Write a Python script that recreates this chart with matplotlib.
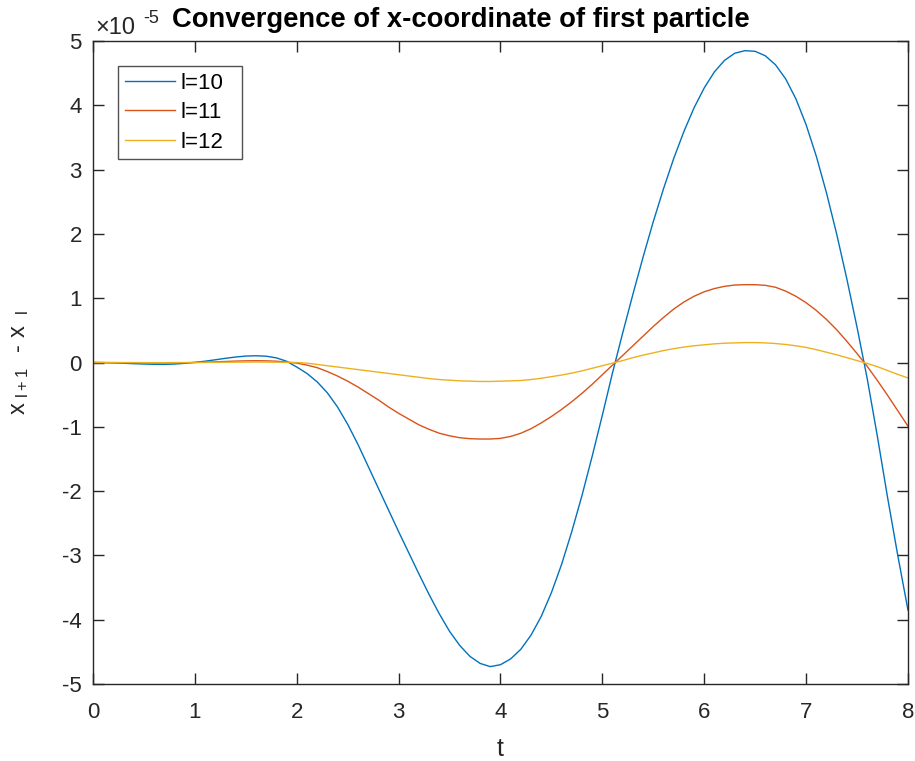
import matplotlib
matplotlib.use("Agg")
import matplotlib.pyplot as plt
from matplotlib.ticker import FuncFormatter

plt.rcParams['font.family'] = ['Liberation Sans', 'DejaVu Sans']
plt.rcParams['mathtext.fontset'] = 'custom'
plt.rcParams['mathtext.rm'] = 'Liberation Sans'

# time axis
t = [0.0, 0.1, 0.2, 0.3, 0.4, 0.5, 0.6, 0.7, 0.8, 0.9,
     1.0, 1.1, 1.2, 1.3, 1.4, 1.5, 1.6, 1.7, 1.8, 1.9,
     2.0, 2.1, 2.2, 2.3, 2.4, 2.5, 2.6, 2.7, 2.8, 2.9,
     3.0, 3.1, 3.2, 3.3, 3.4, 3.5, 3.6, 3.7, 3.8, 3.9,
     4.0, 4.1, 4.2, 4.3, 4.4, 4.5, 4.6, 4.7, 4.8, 4.9,
     5.0, 5.1, 5.2, 5.3, 5.4, 5.5, 5.6, 5.7, 5.8, 5.9,
     6.0, 6.1, 6.2, 6.3, 6.4, 6.5, 6.6, 6.7, 6.8, 6.9,
     7.0, 7.1, 7.2, 7.3, 7.4, 7.5, 7.6, 7.7, 7.8, 7.9, 8.0]

# differences x_{l+1} - x_l, in units of 1e-5
d10 = [0.0, -0.002, -0.006, -0.012, -0.018, -0.024, -0.028, -0.029, -0.024, -0.013,
       0.002, 0.02, 0.042, 0.065, 0.085, 0.1, 0.105, 0.098, 0.072, 0.02,
       -0.07, -0.17, -0.30, -0.47, -0.69, -0.96, -1.27, -1.61, -1.95, -2.29,
       -2.63, -2.96, -3.29, -3.61, -3.91, -4.18, -4.40, -4.57, -4.68, -4.73,
       -4.70, -4.61, -4.46, -4.24, -3.95, -3.58, -3.14, -2.63, -2.07, -1.46,
       -0.82, -0.16, 0.46, 1.06, 1.64, 2.19, 2.70, 3.17, 3.59, 3.96,
       4.27, 4.52, 4.70, 4.81, 4.85, 4.84, 4.77, 4.63, 4.41, 4.10,
       3.70, 3.21, 2.64, 2.00, 1.30, 0.55, -0.25, -1.15, -2.10, -3.00, -3.85]

d11 = [0.0, -0.001, -0.002, -0.003, -0.004, -0.005, -0.006, -0.006, -0.005, -0.003,
       0.0, 0.005, 0.01, 0.016, 0.022, 0.026, 0.028, 0.026, 0.02, 0.008,
       -0.01, -0.04, -0.08, -0.14, -0.21, -0.29, -0.38, -0.48, -0.58, -0.69,
       -0.79, -0.88, -0.97, -1.04, -1.10, -1.14, -1.17, -1.185, -1.19, -1.19,
       -1.18, -1.15, -1.10, -1.03, -0.94, -0.84, -0.73, -0.61, -0.48, -0.34,
       -0.19, -0.04, 0.11, 0.26, 0.41, 0.56, 0.70, 0.83, 0.94, 1.03,
       1.10, 1.15, 1.185, 1.205, 1.21, 1.21, 1.20, 1.17, 1.11, 1.03,
       0.93, 0.81, 0.67, 0.51, 0.33, 0.14, -0.06, -0.28, -0.51, -0.75, -0.99]

d12 = [0.0, 0.0, -0.001, -0.001, -0.001, -0.002, -0.002, -0.002, -0.001, -0.001,
       0.0, 0.001, 0.002, 0.004, 0.005, 0.006, 0.007, 0.006, 0.005, 0.002,
       0.0, -0.01, -0.03, -0.05, -0.07, -0.09, -0.11, -0.13, -0.15, -0.17,
       -0.19, -0.21, -0.23, -0.25, -0.265, -0.275, -0.285, -0.29, -0.295, -0.295,
       -0.29, -0.285, -0.28, -0.265, -0.245, -0.22, -0.195, -0.165, -0.13, -0.09,
       -0.05, -0.01, 0.03, 0.075, 0.115, 0.15, 0.185, 0.215, 0.24, 0.26,
       0.275, 0.29, 0.30, 0.305, 0.31, 0.31, 0.305, 0.295, 0.28, 0.26,
       0.235, 0.20, 0.16, 0.12, 0.075, 0.03, -0.015, -0.065, -0.125, -0.185, -0.24]

labels = ['l=10', 'l=11', 'l=12']
colors = ['#0072BD', '#D95319', '#EDB120']
scale = 1e-5

fig = plt.figure(figsize=(9.15, 7.61), dpi=100)
ax = fig.add_axes([0.1016, 0.1012, 0.8907, 0.8449])

for d, lab, c in zip([d10, d11, d12], labels, colors):
    ax.plot(t, [v * scale for v in d], color=c, lw=1.0, label=lab)

ax.set_xlim(0, 8)
ax.set_ylim(-5 * scale, 5 * scale)
ax.set_xticks(range(0, 9))
ax.set_yticks([k * scale for k in range(-5, 6)])
ax.yaxis.set_major_formatter(FuncFormatter(lambda v, p: '%g' % round(v / scale)))

axc = '#262626'
for s in ax.spines.values():
    s.set_color(axc)
    s.set_linewidth(1.0)
ax.tick_params(direction='in', length=8, width=1, colors=axc, labelsize=16,
               top=True, right=True, pad=8)
ax.tick_params(axis='x', pad=13)

ax.set_xlabel('t', fontsize=18, color=axc, labelpad=10)
ax.set_ylabel(r'$\mathregular{x_{\ l+1}\ \ \text{-}\ x_{\ \ l}}$', fontsize=17, color=axc,
              labelpad=22)

fig.text(0.104, 0.9553, '\u00d710', fontsize=17, color=axc, ha='left', va='baseline')
fig.text(0.157, 0.970, '-5', fontsize=13, color=axc, ha='left', va='baseline')
fig.text(0.188, 0.9645, 'Convergence of x-coordinate of first particle',
         fontsize=19.7, fontweight='bold', ha='left', va='baseline')

leg = ax.legend(loc='upper left', bbox_to_anchor=(0.0307, 0.5, 0.1521, 0.461),
                mode='expand', borderaxespad=0,
                fontsize=16, fancybox=False, handlelength=2.25, handletextpad=0.25,
                labelspacing=0.38, borderpad=0.3)
leg.get_frame().set_edgecolor(axc)
leg.get_frame().set_linewidth(1.0)

fig.savefig('out.png', dpi=100)
